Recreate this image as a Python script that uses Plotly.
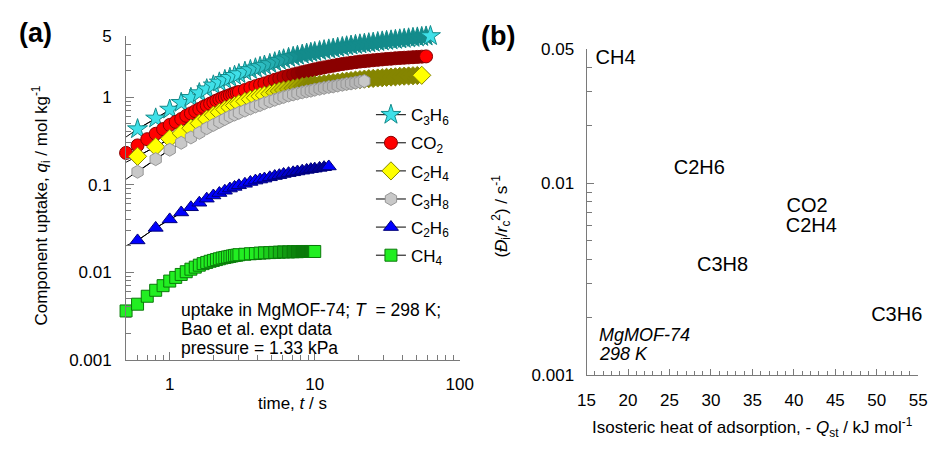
import plotly.graph_objects as go
import math

# ---------------- data: panel (a) ----------------
T_EARLY_01 = [0.5, 0.6, 0.7, 0.8, 0.9, 1.0, 1.1, 1.2, 1.3, 1.4, 1.5, 1.6, 1.7, 1.8, 1.9,
              2.0, 2.1, 2.2, 2.3, 2.4, 2.5, 2.6, 2.7, 2.8, 2.9, 3.0]
T_EARLY_02 = [0.6, 0.8, 1.0, 1.2, 1.4, 1.6, 1.8, 2.0, 2.2, 2.4, 2.6, 2.8, 3.0]
T_LATE = [3.3, 3.6, 3.9, 4.2, 4.5, 4.9, 5.3, 5.7, 6.1, 6.6, 7.1, 7.6, 8.2, 8.8, 9.4,
          10, 10.8, 11.6, 12.5, 13.4, 14.4, 15.5, 16.6, 17.8, 19.1, 20.5, 22, 23.6, 25.3,
          27.2, 29.2, 31.3, 33.6, 36, 38.6, 41.4, 44.4, 47.6, 51, 54.7, 58.6, 62.8]

q_C3H6 = [0.43, 0.57, 0.72, 0.86, 0.98, 1.11, 1.23, 1.36, 1.47, 1.57, 1.66, 1.75, 1.83,
          1.95, 2.04, 2.13, 2.21, 2.29, 2.39, 2.5, 2.6, 2.7, 2.8, 2.88, 2.96, 3.05, 3.13, 3.2,
          3.27, 3.35, 3.43, 3.5, 3.57, 3.65, 3.73, 3.8, 3.87, 3.94, 4.0, 4.06, 4.12, 4.18,
          4.25, 4.32, 4.38, 4.44, 4.5, 4.56, 4.62, 4.68, 4.74, 4.8, 4.86, 4.92, 4.98]
q_CO2 = [0.23, 0.28, 0.33, 0.38, 0.43, 0.48, 0.52, 0.56, 0.61, 0.65, 0.69, 0.73, 0.77,
         0.80, 0.84, 0.87, 0.91, 0.94, 0.97, 1.0, 1.02, 1.05, 1.07, 1.10, 1.12, 1.14,
         1.2, 1.27, 1.33, 1.38, 1.43, 1.5, 1.57, 1.63, 1.69, 1.75, 1.81, 1.86, 1.92, 1.97,
         2.02, 2.07, 2.13, 2.18, 2.23, 2.28, 2.33, 2.38, 2.42, 2.46, 2.5, 2.54, 2.57, 2.6,
         2.63, 2.66, 2.69, 2.72, 2.74, 2.77, 2.79, 2.81, 2.83, 2.85, 2.87, 2.89, 2.91]
q_C2H4 = [0.21, 0.27, 0.335, 0.385, 0.44, 0.50, 0.56, 0.62, 0.67, 0.72, 0.76, 0.80, 0.84,
          0.89, 0.94, 0.98, 1.02, 1.05, 1.09, 1.13, 1.17, 1.2, 1.23, 1.26, 1.29, 1.32, 1.34,
          1.36, 1.38, 1.4, 1.42, 1.44, 1.46, 1.48, 1.5, 1.52, 1.54, 1.56, 1.58, 1.6, 1.62,
          1.63, 1.65, 1.66, 1.68, 1.69, 1.7, 1.72, 1.73, 1.74, 1.75, 1.76, 1.77]
q_C3H8 = [0.14, 0.195, 0.25, 0.30, 0.345, 0.39, 0.44, 0.48, 0.52, 0.56, 0.6, 0.63, 0.66,
          0.7, 0.74, 0.78, 0.81, 0.85, 0.89, 0.93, 0.97, 1.0, 1.04, 1.07, 1.1, 1.13, 1.16,
          1.18, 1.21, 1.24, 1.27, 1.3, 1.32, 1.35, 1.38, 1.41, 1.43, 1.46, 1.49, 1.52]
q_C2H6 = [0.023, 0.032, 0.040, 0.048, 0.055, 0.062, 0.069, 0.075, 0.08, 0.085, 0.09, 0.094,
          0.098, 0.102, 0.107, 0.111, 0.114, 0.117, 0.121, 0.125, 0.128, 0.132, 0.135,
          0.138, 0.141, 0.144, 0.147, 0.15, 0.152, 0.155, 0.158, 0.161]
q_CH4 = [0.0036, 0.0043, 0.0053, 0.0062, 0.0070, 0.0079, 0.0087, 0.0094, 0.0101, 0.0108,
         0.0114, 0.0120, 0.0125, 0.0129, 0.0133, 0.0136, 0.0139, 0.0142, 0.0145, 0.0147,
         0.0149, 0.0151, 0.0153, 0.0155, 0.0156, 0.0158,
         0.016, 0.0162, 0.0163, 0.0165, 0.0166, 0.0167, 0.0168, 0.0169, 0.017, 0.017,
         0.0171, 0.0171, 0.0172, 0.0172, 0.0172, 0.0172]

# model line start values at t = 0.5 s (for series whose data start at 0.6 s)
T_LINE_START = 0.5
start_C3H6 = 0.35
start_C2H4 = 0.18
start_C3H8 = 0.115
start_C2H6 = 0.020

series_names = ["C<sub>3</sub>H<sub>6</sub>", "CO<sub>2</sub>", "C<sub>2</sub>H<sub>4</sub>",
                "C<sub>3</sub>H<sub>8</sub>", "C<sub>2</sub>H<sub>6</sub>", "CH<sub>4</sub>"]

# ---------------- data: panel (b) ----------------
species_b = ["CH4", "C2H6", "CO2", "C2H4", "C3H8", "C3H6"]
qst_b = [18.5, 28.6, 41.6, 42.1, 31.4, 52.4]
diff_b = [0.0447, 0.0119, 0.0075, 0.0059, 0.0037, 0.00204]

# ---------------- styling ----------------
W, H = 943, 453
FONT = "Liberation Sans, Arial, sans-serif"
AX = "#7a7a7a"

styles = [
    dict(q=q_C3H6, early=T_EARLY_02, start=start_C3H6, fill="#3fe0e8", edge="#138b8b",
         sym="star", size=15, dense=(3.0, 8.0, 1.0)),
    dict(q=q_CO2, early=T_EARLY_01, start=None, fill="#ff0000", edge="#8a0000",
         sym="circle", size=13, dense=(4.0, 8.0, 1.0)),
    dict(q=q_C2H4, early=T_EARLY_02, start=start_C2H4, fill="#ffff00", edge="#858500",
         sym="diamond", size=14, dense=(4.5, 9.0, 1.0)),
    dict(q=q_C3H8, early=T_EARLY_02, start=start_C3H8, fill="#c8c8c8", edge="#979797",
         sym="hexagon", size=13, dense=(4.0, 12.0, 0.35)),
    dict(q=q_C2H6, early=T_EARLY_02, start=start_C2H6, fill="#0000ff", edge="#00007a",
         sym="triangle-up", size=13, dense=(4.0, 11.0, 0.8)),
    dict(q=q_CH4, early=T_EARLY_01, start=None, fill="#22ee22", edge="#0a7a0a",
         sym="square", size=12, dense=(4.0, 8.0, 1.0)),
]


def hex2rgb(h):
    h = h.lstrip("#")
    return [int(h[i:i + 2], 16) for i in (0, 2, 4)]


def blend(c1, c2, w):
    a, b = hex2rgb(c1), hex2rgb(c2)
    return "rgb(%d,%d,%d)" % tuple(round(a[i] * (1 - w) + b[i] * w) for i in range(3))


fig = go.Figure()

for name, s in zip(series_names, styles):
    q = s["q"]
    n_late = len(q) - len(s["early"])
    t = s["early"] + T_LATE[:n_late]
    # densely overlapping markers render as their outline colour: emulate that look
    t0, t1, wmax = s["dense"]
    fills = []
    for i, ti in enumerate(t):
        w = (math.log(ti) - math.log(t0)) / (math.log(t1) - math.log(t0))
        w = max(0.0, min(1.0, w)) * wmax
        if i == len(t) - 1:
            w = 0.0
        fills.append(blend(s["fill"], s["edge"], w))
    if s["start"] is not None:
        fig.add_trace(go.Scatter(x=[T_LINE_START] + t, y=[s["start"]] + q, mode="lines",
                                 line=dict(color="black", width=1), showlegend=False,
                                 hoverinfo="skip", xaxis="x", yaxis="y", cliponaxis=False))
    # legend-only proxy (so the legend symbol uses the fill colour)
    fig.add_trace(go.Scatter(x=[None], y=[None], mode="lines+markers", name=name,
                             line=dict(color="black", width=1),
                             marker=dict(symbol=s["sym"], size=s["size"], color=s["fill"],
                                         line=dict(color=s["edge"], width=1)),
                             xaxis="x", yaxis="y", legendgroup=name))
    fig.add_trace(go.Scatter(x=t, y=q, mode="lines+markers", name=name, showlegend=False,
                             line=dict(color="black", width=1),
                             marker=dict(symbol=s["sym"], size=s["size"], color=fills,
                                         line=dict(color=s["edge"], width=1)),
                             xaxis="x", yaxis="y", cliponaxis=False, legendgroup=name))

fig.add_trace(go.Scatter(x=qst_b, y=diff_b, mode="text", text=species_b,
                         textposition="middle center",
                         textfont=dict(family=FONT, size=20, color="black"),
                         showlegend=False, xaxis="x2", yaxis="y2", cliponaxis=False))

minor_y1 = [k * 10 ** e for e in (-3, -2, -1) for k in range(2, 10)] + [2, 3, 4]
minor_x1 = [0.6, 0.7, 0.8, 0.9] + [k * 10 ** e for e in (0, 1) for k in range(2, 10)]
minor_y2 = [k * 0.001 for k in range(2, 10)] + [0.02, 0.03, 0.04]

tickfont = dict(family=FONT, size=17, color="black")

fig.update_layout(
    width=W, height=H, margin=dict(l=0, r=0, t=0, b=0),
    paper_bgcolor="white", plot_bgcolor="white",
    font=dict(family=FONT, size=17, color="black"),
    showlegend=True,
    legend=dict(x=371 / W, y=1 - 92 / H, xanchor="left", yanchor="top",
                bgcolor="rgba(0,0,0,0)", font=dict(family=FONT, size=17),
                tracegroupgap=3, itemwidth=30),
    xaxis=dict(domain=[120 / W, 462 / W], type="log", range=[math.log10(0.5), 2],
               showline=True, linecolor=AX, linewidth=1, mirror=False, showgrid=False,
               zeroline=False, ticks="inside", ticklen=8, tickcolor=AX,
               tickmode="array", tickvals=[1, 10, 100], ticktext=["1", "10", "100"],
               minor=dict(tickmode="array", tickvals=minor_x1, ticks="inside", ticklen=5,
                          tickcolor=AX, showgrid=False),
               tickfont=tickfont, ticklabelstandoff=9, anchor="y"),
    yaxis=dict(domain=[1 - 366 / H, 1 - 28 / H], type="log", range=[-3, math.log10(5)],
               showline=True, linecolor=AX, linewidth=1, showgrid=False, zeroline=False,
               ticks="inside", ticklen=8, tickcolor=AX,
               tickmode="array", tickvals=[0.001, 0.01, 0.1, 1, 5],
               ticktext=["0.001", "0.01", "0.1", "1", "5"],
               minor=dict(tickmode="array", tickvals=minor_y1, ticks="inside", ticklen=5,
                          tickcolor=AX, showgrid=False),
               tickfont=tickfont, ticklabelstandoff=10, anchor="x"),
    xaxis2=dict(domain=[592 / W, 932 / W], range=[15, 55],
                showline=True, linecolor=AX, linewidth=1, showgrid=False, zeroline=False,
                ticks="inside", ticklen=6, tickcolor=AX, tickmode="linear", tick0=15, dtick=5,
                minor=dict(dtick=1, ticks="inside", ticklen=4, tickcolor=AX, showgrid=False),
                tickfont=tickfont, ticklabelstandoff=10, anchor="y2"),
    yaxis2=dict(domain=[1 - 382 / H, 1 - 42 / H], type="log", range=[-3, math.log10(0.05)],
                showline=True, linecolor=AX, linewidth=1, showgrid=False, zeroline=False,
                ticks="inside", ticklen=7, tickcolor=AX,
                tickmode="array", tickvals=[0.001, 0.01, 0.05],
                ticktext=["0.001", "0.01", "0.05"],
                minor=dict(tickmode="array", tickvals=minor_y2, ticks="inside", ticklen=5,
                           tickcolor=AX, showgrid=False),
                tickfont=tickfont, ticklabelstandoff=8, anchor="x2"),
)


def px_ann(text, x, y, size=17, xanchor="center", yanchor="middle", angle=0, **kw):
    fig.add_annotation(text=text, x=x / W, y=1 - y / H, xref="paper", yref="paper",
                       showarrow=False, xanchor=xanchor, yanchor=yanchor, textangle=angle,
                       font=dict(family=FONT, size=size, color="black"), **kw)


px_ann("<b>(a)</b>", 27, 25, size=27)
px_ann("<b>(b)</b>", 501, 28, size=27)
px_ann("Component uptake, <i>q</i><sub>i</sub> / mol kg<sup>-1</sup>", 33, 205, angle=-90)
px_ann("time, <i>t</i> / s", 291, 412)
px_ann("(<i>Đ</i><sub>i</sub>/<i>r</i><sub>c</sub><sup>2</sup>) / s<sup>-1</sup>", 505, 216, angle=-90)
px_ann("Isosteric heat of adsorption, - <i>Q</i><sub>st</sub> / kJ mol<sup>-1</sup>", 762, 437)
px_ann("uptake in MgMOF-74; <i>T</i>  = 298 K;", 174, 314.5, size=17.5, xanchor="left")
px_ann("Bao et al. expt data", 174, 334, size=17.5, xanchor="left")
px_ann("pressure = 1.33 kPa", 174, 353.5, size=17.5, xanchor="left")
px_ann("<i>MgMOF-74</i>", 603, 340, size=18, xanchor="left")
px_ann("<i>298 K</i>", 603, 360, size=18, xanchor="left")

fig.write_html("out.html",
               post_script="document.body.style.margin='0';document.body.style.overflow='hidden';")
